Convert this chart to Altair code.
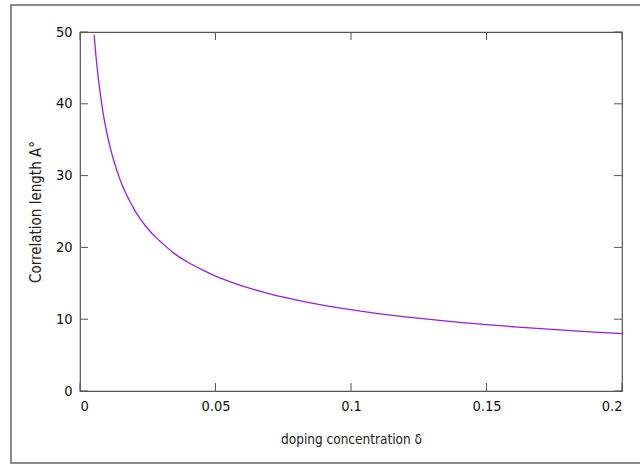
import altair as alt
import pandas as pd

# values
delta = [0.0052, 0.006, 0.007, 0.008, 0.009, 0.010, 0.011, 0.012, 0.013, 0.014,
         0.015, 0.016, 0.018, 0.020, 0.022, 0.025, 0.028, 0.030, 0.035, 0.040,
         0.045, 0.050, 0.055, 0.060, 0.065, 0.070, 0.075, 0.080, 0.090, 0.100,
         0.110, 0.120, 0.130, 0.140, 0.150, 0.160, 0.170, 0.180, 0.190, 0.200]
corr_len = [49.6, 46.2, 42.8, 40.0, 37.7, 35.8, 34.1, 32.7, 31.4, 30.3,
            29.2, 28.3, 26.7, 25.3, 24.1, 22.6, 21.4, 20.7, 19.1, 17.9,
            16.9, 16.0, 15.27, 14.62, 14.05, 13.53, 13.07, 12.66, 11.93, 11.32,
            10.79, 10.33, 9.93, 9.57, 9.24, 8.95, 8.68, 8.44, 8.21, 8.00]
x_ticks = [0, 0.05, 0.1, 0.15, 0.2]
y_ticks = [0, 10, 20, 30, 40, 50]

W, H = 542, 359
FONT = "DejaVu Sans Condensed"
AX = "#555555"

df = pd.DataFrame({"delta": delta, "xi": corr_len})
xt = pd.DataFrame({"t": x_ticks})
yt = pd.DataFrame({"t": y_ticks})

xscale = alt.Scale(domain=[0, 0.2], nice=False, zero=False)
yscale = alt.Scale(domain=[0, 50], nice=False)

line = alt.Chart(df).mark_line(color="#9a1ddb", strokeWidth=1.3,
                               interpolate="monotone").encode(
    x=alt.X("delta:Q", scale=xscale,
            axis=alt.Axis(values=x_ticks, format="~g", title="doping concentration δ",
                          ticks=False, domain=False, grid=False, labelPadding=8,
                          titlePadding=20, titleFontSize=13.5)),
    y=alt.Y("xi:Q", scale=yscale,
            axis=alt.Axis(values=y_ticks, title="Correlation length A°",
                          ticks=False, domain=False, grid=False, labelPadding=8,
                          titlePadding=12, titleFontSize=15)),
)

tick_len = 8
bot = alt.Chart(xt).mark_rule(color=AX, strokeWidth=1).encode(
    x=alt.X("t:Q", scale=xscale), y=alt.value(H), y2=alt.value(H - tick_len))
top = alt.Chart(xt).mark_rule(color=AX, strokeWidth=1).encode(
    x=alt.X("t:Q", scale=xscale), y=alt.value(0), y2=alt.value(tick_len))
left = alt.Chart(yt).mark_rule(color=AX, strokeWidth=1).encode(
    y=alt.Y("t:Q", scale=yscale), x=alt.value(0), x2=alt.value(tick_len))
right = alt.Chart(yt).mark_rule(color=AX, strokeWidth=1).encode(
    y=alt.Y("t:Q", scale=yscale), x=alt.value(W), x2=alt.value(W - tick_len))

frame = alt.Chart(pd.DataFrame({"a": [0]})).mark_rect(
    fill=None, stroke="#666666", strokeWidth=1.5).encode(
    x=alt.value(-69), x2=alt.value(570), y=alt.value(-27), y2=alt.value(431))

chart = alt.layer(frame, line, bot, top, left, right).properties(
    width=W, height=H,
    autosize=alt.AutoSizeParams(type="none"),
    padding={"left": 80, "top": 32, "right": 18, "bottom": 73},
).configure_view(stroke=AX, strokeWidth=1.2).configure_axis(
    labelFont=FONT, titleFont=FONT, labelFontSize=14.5,
    labelColor="#111111", titleColor="#222222", titleFontWeight="normal",
)

chart.save("out.html", embed_options={"renderer": "svg", "actions": False})
